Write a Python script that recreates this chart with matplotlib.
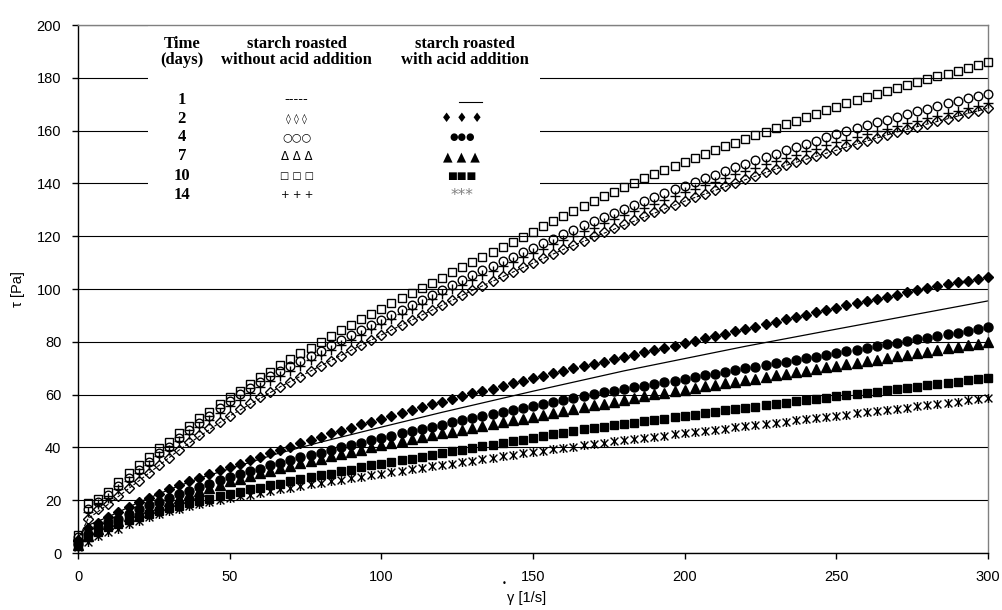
import numpy as np
import matplotlib
matplotlib.use("Agg")
import matplotlib.pyplot as plt
from matplotlib.path import Path
from matplotlib.patches import Rectangle

# shear rate grid of the flow curves [1/s]
shear_rate = np.linspace(0, 300, 91)

# shear stress [Pa], starch roasted without acid addition
no_acid_day2 = [
    5.0, 13.0, 16.5, 18.5, 21.5, 24.5, 27.3, 30.3, 33.3, 36.0,
    39.0, 42.0, 44.7, 47.2, 49.7, 51.9, 54.4, 56.7, 59.0, 61.1,
    63.0, 64.9, 66.8, 69.0, 70.9, 72.9, 74.8, 76.8, 78.7, 80.7,
    82.6, 84.5, 86.4, 88.3, 90.2, 92.1, 94.0, 95.9, 97.7, 99.5,
    101.3, 103.1, 104.8, 106.5, 108.2, 109.9, 111.6, 113.3, 115.0, 116.7,
    118.3, 119.9, 121.5, 123.0, 124.5, 126.0, 127.5, 129.0, 130.5, 131.9,
    133.3, 134.7, 136.1, 137.5, 138.9, 140.3, 141.6, 142.9, 144.2, 145.5,
    146.8, 148.0, 149.2, 150.4, 151.6, 152.8, 154.0, 155.1, 156.2, 157.3,
    158.4, 159.5, 160.5, 161.5, 162.5, 163.5, 164.5, 165.5, 166.5, 167.5,
    168.5]
no_acid_day4 = [
    6.0, 16.5, 19.5, 22.0, 25.2, 28.3, 31.3, 34.5, 37.7, 40.3,
    43.5, 46.5, 49.3, 52.0, 54.8, 57.7, 60.2, 62.5, 64.8, 66.9,
    68.8, 70.7, 72.6, 74.8, 76.7, 78.7, 80.6, 82.6, 84.5, 86.5,
    88.4, 90.3, 92.2, 94.1, 96.0, 97.9, 99.8, 101.7, 103.5, 105.3,
    107.1, 108.9, 110.6, 112.3, 114.0, 115.7, 117.4, 119.1, 120.8, 122.5,
    124.1, 125.7, 127.3, 128.8, 130.3, 131.8, 133.3, 134.8, 136.3, 137.7,
    139.1, 140.5, 141.9, 143.3, 144.7, 146.1, 147.4, 148.7, 150.0, 151.3,
    152.6, 153.8, 155.0, 156.2, 157.4, 158.6, 159.8, 160.9, 162.0, 163.1,
    164.2, 165.3, 166.3, 167.3, 168.3, 169.3, 170.3, 171.3, 172.3, 173.2,
    174.0]
no_acid_day10 = [
    7.0, 18.8, 20.5, 23.2, 27.0, 30.2, 33.3, 36.5, 39.7, 42.2,
    45.3, 48.2, 51.0, 53.5, 56.3, 59.0, 61.4, 64.1, 66.6, 68.7,
    71.1, 73.4, 75.6, 77.8, 80.0, 82.2, 84.4, 86.5, 88.6, 90.6,
    92.6, 94.6, 96.5, 98.5, 100.4, 102.4, 104.3, 106.3, 108.2, 110.2,
    112.1, 114.0, 115.9, 117.8, 119.7, 121.7, 123.7, 125.7, 127.6, 129.5,
    131.4, 133.3, 135.1, 136.9, 138.6, 140.3, 142.0, 143.6, 145.2, 146.7,
    148.2, 149.7, 151.2, 152.6, 154.0, 155.4, 156.8, 158.2, 159.6, 161.0,
    162.4, 163.8, 165.1, 166.4, 167.7, 169.0, 170.3, 171.5, 172.7, 173.9,
    175.0, 176.1, 177.2, 178.3, 179.4, 180.5, 181.6, 182.7, 183.8, 184.9,
    186.0]
no_acid_day14 = [
    5.5, 15.5, 18.5, 21.0, 24.2, 27.3, 30.3, 33.5, 36.7, 39.2,
    42.3, 45.1, 47.9, 50.4, 53.1, 55.6, 58.0, 60.5, 62.8, 65.0,
    67.0, 69.0, 70.9, 73.0, 74.9, 76.9, 78.8, 80.8, 82.7, 84.7,
    86.6, 88.5, 90.4, 92.3, 94.2, 96.1, 98.0, 99.9, 101.7, 103.5,
    105.3, 107.0, 108.7, 110.4, 112.0, 113.7, 115.3, 117.0, 118.6, 120.2,
    121.8, 123.3, 124.9, 126.4, 127.9, 129.4, 130.8, 132.3, 133.8, 135.2,
    136.6, 138.0, 139.3, 140.7, 142.1, 143.4, 144.7, 146.0, 147.3, 148.5,
    149.8, 150.9, 152.1, 153.2, 154.4, 155.5, 156.6, 157.7, 158.7, 159.8,
    160.8, 161.8, 162.7, 163.7, 164.7, 165.6, 166.6, 167.6, 168.5, 169.5,
    170.5]
# day 1 is a plain curve, read at fewer points
no_acid_day1_x = [0, 3.3, 10, 20, 33.3, 50, 66.7, 83.3, 100, 130, 160, 200, 233.3, 270, 300]
no_acid_day1 = [5.0, 13.0, 18.5, 27.3, 39.0, 51.9, 63.0, 72.9, 82.6, 99.5, 115.0, 133.3, 146.8, 159.5, 168.5]

# shear stress [Pa], starch roasted with acid addition
acid_day1_x = [0, 3.3, 10, 20, 30, 40, 50, 65, 80, 100, 120, 150, 180, 220, 250, 300]
acid_day1 = [6.0, 10.5, 13.7, 19.2, 24.0, 28.3, 31.9, 37.4, 42.0, 47.7, 53.3, 61.3, 69.0, 78.3, 84.8, 95.5]
acid_day2 = [
    4.5, 9.5, 11.5, 13.7, 15.6, 17.5, 19.4, 21.0, 22.5, 24.3,
    25.7, 27.2, 28.6, 30.1, 31.4, 32.7, 33.9, 35.2, 36.5, 37.7,
    39.0, 40.3, 41.5, 42.8, 44.0, 45.3, 46.3, 47.5, 48.7, 49.7,
    50.9, 52.0, 53.2, 54.2, 55.2, 56.3, 57.3, 58.4, 59.5, 60.5,
    61.4, 62.3, 63.3, 64.3, 65.2, 66.2, 67.1, 68.1, 69.0, 69.9,
    70.8, 71.6, 72.5, 73.4, 74.2, 75.1, 76.0, 76.8, 77.7, 78.6,
    79.5, 80.4, 81.3, 82.2, 83.1, 84.0, 84.9, 85.8, 86.7, 87.6,
    88.5, 89.4, 90.3, 91.2, 92.1, 92.9, 93.8, 94.6, 95.5, 96.3,
    97.1, 97.9, 98.7, 99.5, 100.3, 101.0, 101.8, 102.5, 103.2, 103.9,
    104.6]
acid_day4 = [
    3.5, 7.3, 9.9, 11.8, 13.0, 14.9, 16.5, 18.1, 19.4, 20.9,
    22.3, 23.5, 25.1, 26.3, 27.6, 28.9, 29.9, 31.1, 32.0, 33.2,
    34.2, 35.2, 36.2, 37.1, 38.0, 39.0, 40.0, 40.9, 41.8, 42.7,
    43.5, 44.4, 45.3, 46.2, 47.0, 47.8, 48.6, 49.5, 50.3, 51.0,
    51.8, 52.7, 53.4, 54.2, 54.9, 55.7, 56.5, 57.2, 58.0, 58.7,
    59.5, 60.3, 60.9, 61.5, 62.2, 62.8, 63.4, 64.0, 64.7, 65.3,
    66.0, 66.6, 67.3, 67.9, 68.6, 69.2, 69.9, 70.5, 71.2, 71.8,
    72.5, 73.1, 73.8, 74.4, 75.1, 75.7, 76.4, 77.0, 77.7, 78.3,
    79.0, 79.6, 80.3, 80.9, 81.6, 82.2, 82.9, 83.5, 84.2, 84.9,
    85.6]
acid_day7 = [
    3.0, 6.5, 9.0, 11.0, 12.3, 14.0, 15.5, 17.0, 18.3, 19.7,
    21.0, 22.2, 23.5, 24.7, 25.9, 27.1, 28.1, 29.2, 30.2, 31.2,
    32.2, 33.1, 34.0, 34.9, 35.8, 36.7, 37.6, 38.4, 39.2, 40.0,
    40.8, 41.6, 42.4, 43.2, 43.9, 44.6, 45.3, 46.0, 46.7, 47.4,
    48.1, 48.8, 49.5, 50.2, 50.9, 51.6, 52.3, 53.0, 53.8, 54.5,
    55.2, 55.9, 56.6, 57.3, 58.0, 58.7, 59.4, 60.1, 60.7, 61.3,
    61.9, 62.5, 63.1, 63.7, 64.3, 64.9, 65.5, 66.1, 66.7, 67.3,
    67.9, 68.5, 69.1, 69.7, 70.3, 70.9, 71.5, 72.1, 72.7, 73.3,
    73.9, 74.5, 75.1, 75.7, 76.3, 76.9, 77.5, 78.1, 78.7, 79.3,
    80.0]
acid_day10 = [
    3.0, 6.1, 8.0, 9.9, 11.1, 12.4, 13.7, 14.9, 15.9, 17.0,
    17.9, 18.8, 19.7, 20.6, 21.5, 22.3, 23.2, 24.1, 24.8, 25.7,
    26.3, 27.2, 28.0, 28.7, 29.5, 30.1, 30.9, 31.6, 32.4, 33.2,
    33.8, 34.4, 35.2, 35.8, 36.5, 37.2, 37.8, 38.5, 39.2, 39.9,
    40.5, 41.1, 41.8, 42.4, 43.0, 43.7, 44.3, 44.9, 45.6, 46.2,
    46.8, 47.3, 47.8, 48.4, 48.9, 49.4, 49.9, 50.4, 50.9, 51.4,
    51.9, 52.4, 52.9, 53.5, 54.0, 54.5, 55.0, 55.5, 56.0, 56.5,
    57.0, 57.5, 57.9, 58.4, 58.8, 59.3, 59.8, 60.2, 60.7, 61.1,
    61.6, 62.1, 62.5, 63.0, 63.5, 64.0, 64.4, 64.9, 65.4, 65.8,
    66.3]
acid_day14 = [
    2.3, 4.2, 6.3, 8.0, 9.2, 10.9, 12.2, 13.7, 14.7, 15.8,
    16.8, 17.7, 18.5, 19.3, 20.1, 20.9, 21.5, 22.1, 22.9, 23.6,
    24.2, 24.8, 25.4, 26.0, 26.6, 27.1, 27.7, 28.3, 28.9, 29.5,
    30.0, 30.6, 31.1, 31.7, 32.2, 32.8, 33.3, 33.9, 34.4, 35.0,
    35.5, 36.1, 36.6, 37.2, 37.7, 38.3, 38.8, 39.3, 39.8, 40.3,
    40.8, 41.3, 41.8, 42.3, 42.7, 43.1, 43.6, 44.0, 44.4, 44.9,
    45.3, 45.8, 46.2, 46.7, 47.1, 47.6, 48.0, 48.4, 48.9, 49.3,
    49.8, 50.2, 50.7, 51.1, 51.6, 52.0, 52.4, 52.9, 53.3, 53.8,
    54.2, 54.7, 55.1, 55.6, 56.0, 56.5, 56.9, 57.3, 57.8, 58.2,
    58.7]

# legend table
days = ['1', '2', '4', '7', '10', '14']
symbols_no_acid = ['-----', '◊ ◊ ◊', '○○○', 'Δ Δ Δ', '□ □ □', '+ + +']
symbols_acid = ['', '♦ ♦ ♦', '●●●', '▲ ▲ ▲', '■■■', '***']
size_no_acid = [9.5, 7, 8, 8.5, 7, 7.5]
size_acid = [7, 9, 7, 9, 7.5, 11]

# asterisk marker: x with a vertical bar
star = Path([(-1, -1), (1, 1), (-1, 1), (1, -1), (0, -1.15), (0, 1.15)],
            [Path.MOVETO, Path.LINETO] * 3)

fig = plt.figure(figsize=(10.03, 6.10), dpi=100)
ax = fig.add_axes([0.0778, 0.0934, 0.9073, 0.8656])

mk = dict(linestyle='none', color='black', clip_on=False, zorder=3)

ax.plot(no_acid_day1_x, no_acid_day1, color='black', lw=0.8, ls=(0, (3, 1.5)), zorder=2)
ax.plot(shear_rate, no_acid_day2, marker='D', ms=5.2, mfc='none', mew=1.0, **mk)
ax.plot(shear_rate, no_acid_day4, marker='o', ms=6.2, mfc='none', mew=1.0, **mk)
ax.plot(shear_rate, no_acid_day10, marker='s', ms=6.2, mfc='none', mew=1.0, **mk)
ax.plot(shear_rate, no_acid_day14, marker='+', ms=7.5, mew=1.0, **mk)

ax.plot(acid_day1_x, acid_day1, color='black', lw=0.9, zorder=2)
ax.plot(shear_rate, acid_day2, marker='D', ms=5.2, **mk)
ax.plot(shear_rate, acid_day4, marker='o', ms=6.5, **mk)
ax.plot(shear_rate, acid_day7, marker='^', ms=6.5, **mk)
ax.plot(shear_rate, acid_day10, marker='s', ms=6.0, **mk)
ax.plot(shear_rate, acid_day14, marker=star, ms=6.5, mew=1.0, mfc='none', **mk)

ax.set_xlim(0, 300)
ax.set_ylim(0, 200)
ax.set_xticks(np.arange(0, 301, 50))
ax.set_yticks(np.arange(0, 201, 20))
ax.yaxis.grid(True, color='black', lw=0.8)
ax.set_axisbelow(True)

for side in ('top', 'right'):
    ax.spines[side].set_color('#808080')
for side in ('left', 'bottom'):
    ax.spines[side].set_color('black')
for sp in ax.spines.values():
    sp.set_linewidth(1.0)

ax.tick_params(direction='out', length=4, width=1, labelsize=10.5, pad=8)
for lab in ax.get_xticklabels() + ax.get_yticklabels():
    lab.set_fontfamily('Liberation Sans')

fig.text(18 / 1003, (610 - 289) / 610, 'τ [Pa]', rotation=90, ha='center', va='center',
         fontsize=10.5, family='Liberation Sans')
fig.text(527 / 1003, (610 - 598) / 610, 'γ [1/s]', ha='center', va='center',
         fontsize=10.5, family='Liberation Sans')
fig.text(504 / 1003, (610 - 584) / 610, '•', ha='center', va='center', fontsize=6,
         family='DejaVu Sans')

# white block behind the table hides the grid lines
ax.add_patch(Rectangle((0.077, 0.65), 0.431, 0.35, transform=ax.transAxes,
                       facecolor='white', edgecolor='none', zorder=1))

head = dict(ha='center', va='center', family='Liberation Serif', fontweight='bold',
            fontsize=12, transform=ax.transAxes, linespacing=0.95, zorder=4)
ax.text(0.114, 0.949, 'Time\n(days)', **head)
ax.text(0.2403, 0.949, 'starch roasted\nwithout acid addition', **head)
ax.text(0.4253, 0.949, 'starch roasted\nwith acid addition', **head)

row_y = [0.858, 0.822, 0.787, 0.751, 0.714, 0.678]
for i, fy in enumerate(row_y):
    ax.text(0.114, fy, days[i], **head)
    ax.text(0.2403, fy, symbols_no_acid[i], ha='center', va='center', fontsize=size_no_acid[i],
            family='DejaVu Sans', transform=ax.transAxes, zorder=4)
    ax.text(0.4216, fy, symbols_acid[i], ha='center', va='center', fontsize=size_acid[i],
            family='DejaVu Sans', color='#808080' if symbols_acid[i] == '***' else 'black',
            transform=ax.transAxes, zorder=4)
ax.plot([0.4187, 0.4440], [0.855, 0.855], color='black', lw=0.8,
        transform=ax.transAxes, zorder=4)

fig.savefig('out.png', dpi=100)
